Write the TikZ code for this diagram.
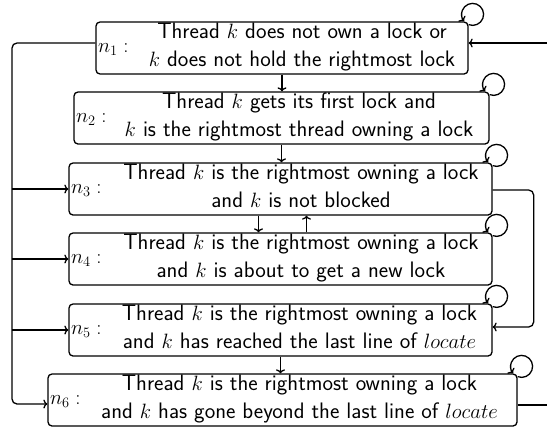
\documentclass[tikz,border=0pt]{standalone}
\usetikzlibrary{arrows.meta}
\begin{document}
\begin{tikzpicture}[x=1pt,y=-1pt, line width=1.3pt,
  box/.style={draw, rounded corners=4pt, minimum height=52pt, inner sep=0pt},
  txt/.style={anchor=base, inner sep=0pt, font=\sffamily\fontsize{22.4}{28}\selectfont},
  lab/.style={anchor=base west, inner sep=0pt, font=\fontsize{22.4}{28}\selectfont},
  arr/.style={-{To[length=4pt,width=9pt]}},
  selfloop/.style={arr},
  ]
\useasboundingbox (0,0) rectangle (547,429);
% boxes
\node[box, minimum width=372pt] (n1) at (282,48) {};
\node[box, minimum width=415pt] (n2) at (281.5,118) {};
\node[box, minimum width=423pt] (n3) at (280.5,189) {};
\node[box, minimum width=423pt] (n4) at (280.5,259) {};
\node[box, minimum width=423pt] (n5) at (280.5,330) {};
\node[box, minimum width=469pt] (n6) at (282.5,400) {};
% labels
\node[lab] (l1) at ([xshift=2pt,yshift=-4pt]n1.west) {$n_1:$};
\node[lab] (l2) at ([xshift=2pt,yshift=-4pt]n2.west) {$n_2:$};
\node[lab] (l3) at ([xshift=2pt,yshift=-4pt]n3.west) {$n_3:$};
\node[lab] (l4) at ([xshift=2pt,yshift=-4pt]n4.west) {$n_4:$};
\node[lab] (l5) at ([xshift=2pt,yshift=-4pt]n5.west) {$n_5:$};
\node[lab] (l6) at ([xshift=2pt,yshift=-4pt]n6.west) {$n_6:$};
% texts
\node[txt] (t1) at (302,38) {\begin{tabular}[t]{@{}c@{}}Thread $k$ does not own a lock or\\ $k$ does not hold the rightmost lock\end{tabular}};
\node[txt] (t2) at (299,108) {\begin{tabular}[t]{@{}c@{}}Thread $k$ gets its first lock and\\ $k$ is the rightmost thread owning a lock\end{tabular}};
\node[txt] (t3) at (301,179) {\begin{tabular}[t]{@{}c@{}}Thread $k$ is the rightmost owning a lock\\ and $k$ is not blocked\end{tabular}};
\node[txt] (t4) at (301,249) {\begin{tabular}[t]{@{}c@{}}Thread $k$ is the rightmost owning a lock\\ and $k$ is about to get a new lock\end{tabular}};
\node[txt] (t5) at (299.5,320) {\begin{tabular}[t]{@{}c@{}}Thread $k$ is the rightmost owning a lock\\ and $k$ has reached the last line of $locate$\end{tabular}};
\node[txt] (t6) at (299.5,390) {\begin{tabular}[t]{@{}c@{}}Thread $k$ is the rightmost owning a lock\\ and $k$ has gone beyond the last line of $locate$\end{tabular}};
% coordinates
\coordinate (bus) at (12,0);
\coordinate (rin) at (547,43);
\coordinate (rout) at (547,405);
\coordinate (n1w) at ([yshift=5pt]n1.west);
\coordinate (n6w) at ([yshift=-4pt]n6.west);
\coordinate (n3e) at ([yshift=-1pt]n3.east);
\coordinate (n5e) at ([yshift=3pt]n5.east);
% self loops
\foreach \n in {n1,n2,n3,n4,n5,n6}
  \draw[selfloop] ([yshift=-3.3pt]\n.north east) arc[start angle=249,end angle=579,radius=11pt];
% vertical arrows
\draw[arr] (n1.south) -- (n1.south |- n2.north);
\draw[arr] (n2.south) -- (n2.south |- n3.north);
\draw[arr] ([xshift=-22pt]n3.south) -- ([xshift=-22pt]n3.south |- n4.north);
\draw[arr] ([xshift=26pt]n4.north) -- ([xshift=26pt]n4.north |- n3.south);
\draw[arr] (n5.south) -- (n5.south |- n6.north);
% left bus
\draw[arr, rounded corners=5pt] (n1w) -- (bus |- n1w) |- (n6w);
\draw[arr] (bus |- n3.west) -- (n3.west);
\draw[arr] (bus |- n4.west) -- (n4.west);
\draw[arr] (bus |- n5.west) -- (n5.west);
% right wrap
\draw[arr] (rin) -- (rin -| n1.east);
\draw (rout -| n6.east) -- (rout);
% n3 -> n5
\draw[arr, rounded corners=5pt] (n3e) -- ++(41,0) |- (n5e);
\end{tikzpicture}
\end{document}
